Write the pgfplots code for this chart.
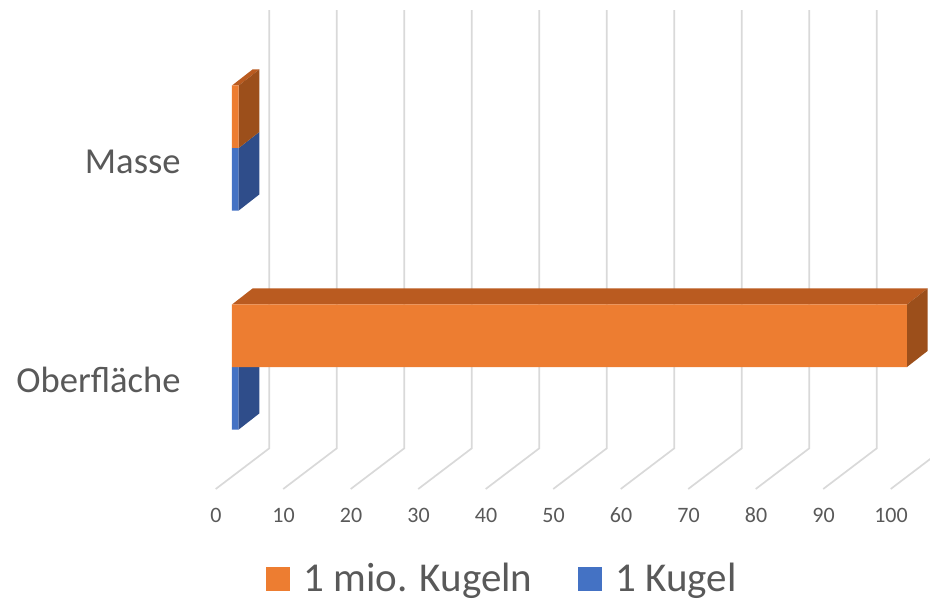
\documentclass[border=0pt]{standalone}
\usepackage{pgfplots}
\pgfplotsset{compat=1.18}
\usepackage{pgfplotstable}
\usepackage{fontspec}
\setmainfont{Carlito}

\definecolor{orangeF}{HTML}{ED7D31}
\definecolor{orangeT}{HTML}{BA5B20}
\definecolor{orangeS}{HTML}{9C4F1B}
\definecolor{blueF}{HTML}{4472C4}
\definecolor{blueS}{HTML}{2F4D8A}
\definecolor{gridc}{HTML}{D9D9D9}
\definecolor{textgray}{HTML}{595959}

% pos: 0 = Oberfläche, 1 = Masse
\pgfplotstableread{
pos kugel mio
0   1     100
1   1     1
}\werte

\begin{document}
\begin{tikzpicture}
\begin{axis}[
  width=465pt, height=300.5pt, scale only axis,
  xmin=-34.37, xmax=103.41, ymin=-1.0685, ymax=1.6758,
  enlargelimits=false,
  axis line style={draw=none},
  major tick style={draw=none},
  xtick={0,10,...,100},
  ytick={0,1}, yticklabels={Oberfläche,Masse},
  /pgf/number format/assume math mode=true,
  xticklabel style={font=\fontsize{11}{13}\selectfont, text=textgray,
    anchor=base, inner sep=0pt, xshift=-8pt, yshift=39.5pt},
  yticklabel style={font=\fontsize{18.3}{22}\selectfont, text=textgray,
    anchor=base east, inner sep=0pt, xshift=90.5pt, yshift=-12.7pt},
  legend columns=2,
  legend image code/.code={\fill[#1] (0pt,-6pt) rectangle (12pt,6pt);},
  legend style={draw=none, fill=none, at={(0.286,0.0366)}, anchor=west,
    inner sep=0pt, nodes={inner sep=0pt, text=textgray},
    font=\fontsize{20.5}{24}\selectfont,
    /tikz/every odd column/.append style={column sep=6.5pt},
    /tikz/every even column/.append style={column sep=23pt}},
]
\addlegendimage{fill=orangeF, draw=none}
\addlegendentry{1 mio. Kugeln}
\addlegendimage{fill=blueF, draw=none}
\addlegendentry{1 Kugel}

% floor and back-wall grid lines
\pgfplotsinvokeforeach{0,10,20,30,40,50,60,70,80,90,100}{
  \draw[gridc, line width=0.85pt]
    ([xshift=-8.15pt]axis cs:#1,-0.5571)
    -- ([xshift=18.65pt]axis cs:#1,-0.3712)
    -- ([xshift=18.65pt]axis cs:#1,1.6301);
}

% 1 Kugel: front faces and right side faces
\addplot[xbar, bar width=0.2854, bar shift=-0.1427, fill=blueF, draw=none, forget plot]
  table[x=kugel, y=pos]{\werte};
\addplot[fill=blueS, draw=none, forget plot]
  coordinates {(1,-0.2854) (1,0) (4.04,0.0731) (4.04,-0.2123)} -- cycle;
\addplot[fill=blueS, draw=none, forget plot]
  coordinates {(1,0.7146) (1,1) (4.04,1.0731) (4.04,0.7877)} -- cycle;

% 1 mio. Kugeln: top and side faces, then front faces
\addplot[fill=orangeT, draw=none, forget plot]
  coordinates {(0,0.2854) (100,0.2854) (103.04,0.3585) (3.04,0.3585)} -- cycle;
\addplot[fill=orangeS, draw=none, forget plot]
  coordinates {(100,0) (100,0.2854) (103.04,0.3585) (103.04,0.0731)} -- cycle;
\addplot[fill=orangeT, draw=none, forget plot]
  coordinates {(0,1.2854) (1,1.2854) (4.04,1.3585) (3.04,1.3585)} -- cycle;
\addplot[fill=orangeS, draw=none, forget plot]
  coordinates {(1,1) (1,1.2854) (4.04,1.3585) (4.04,1.0731)} -- cycle;
\addplot[xbar, bar width=0.2854, bar shift=0.1427, fill=orangeF, draw=none, forget plot]
  table[x=mio, y=pos]{\werte};
\end{axis}
\pgfresetboundingbox
\useasboundingbox (current axis.south west) rectangle (current axis.north east);
\end{tikzpicture}
\end{document}
